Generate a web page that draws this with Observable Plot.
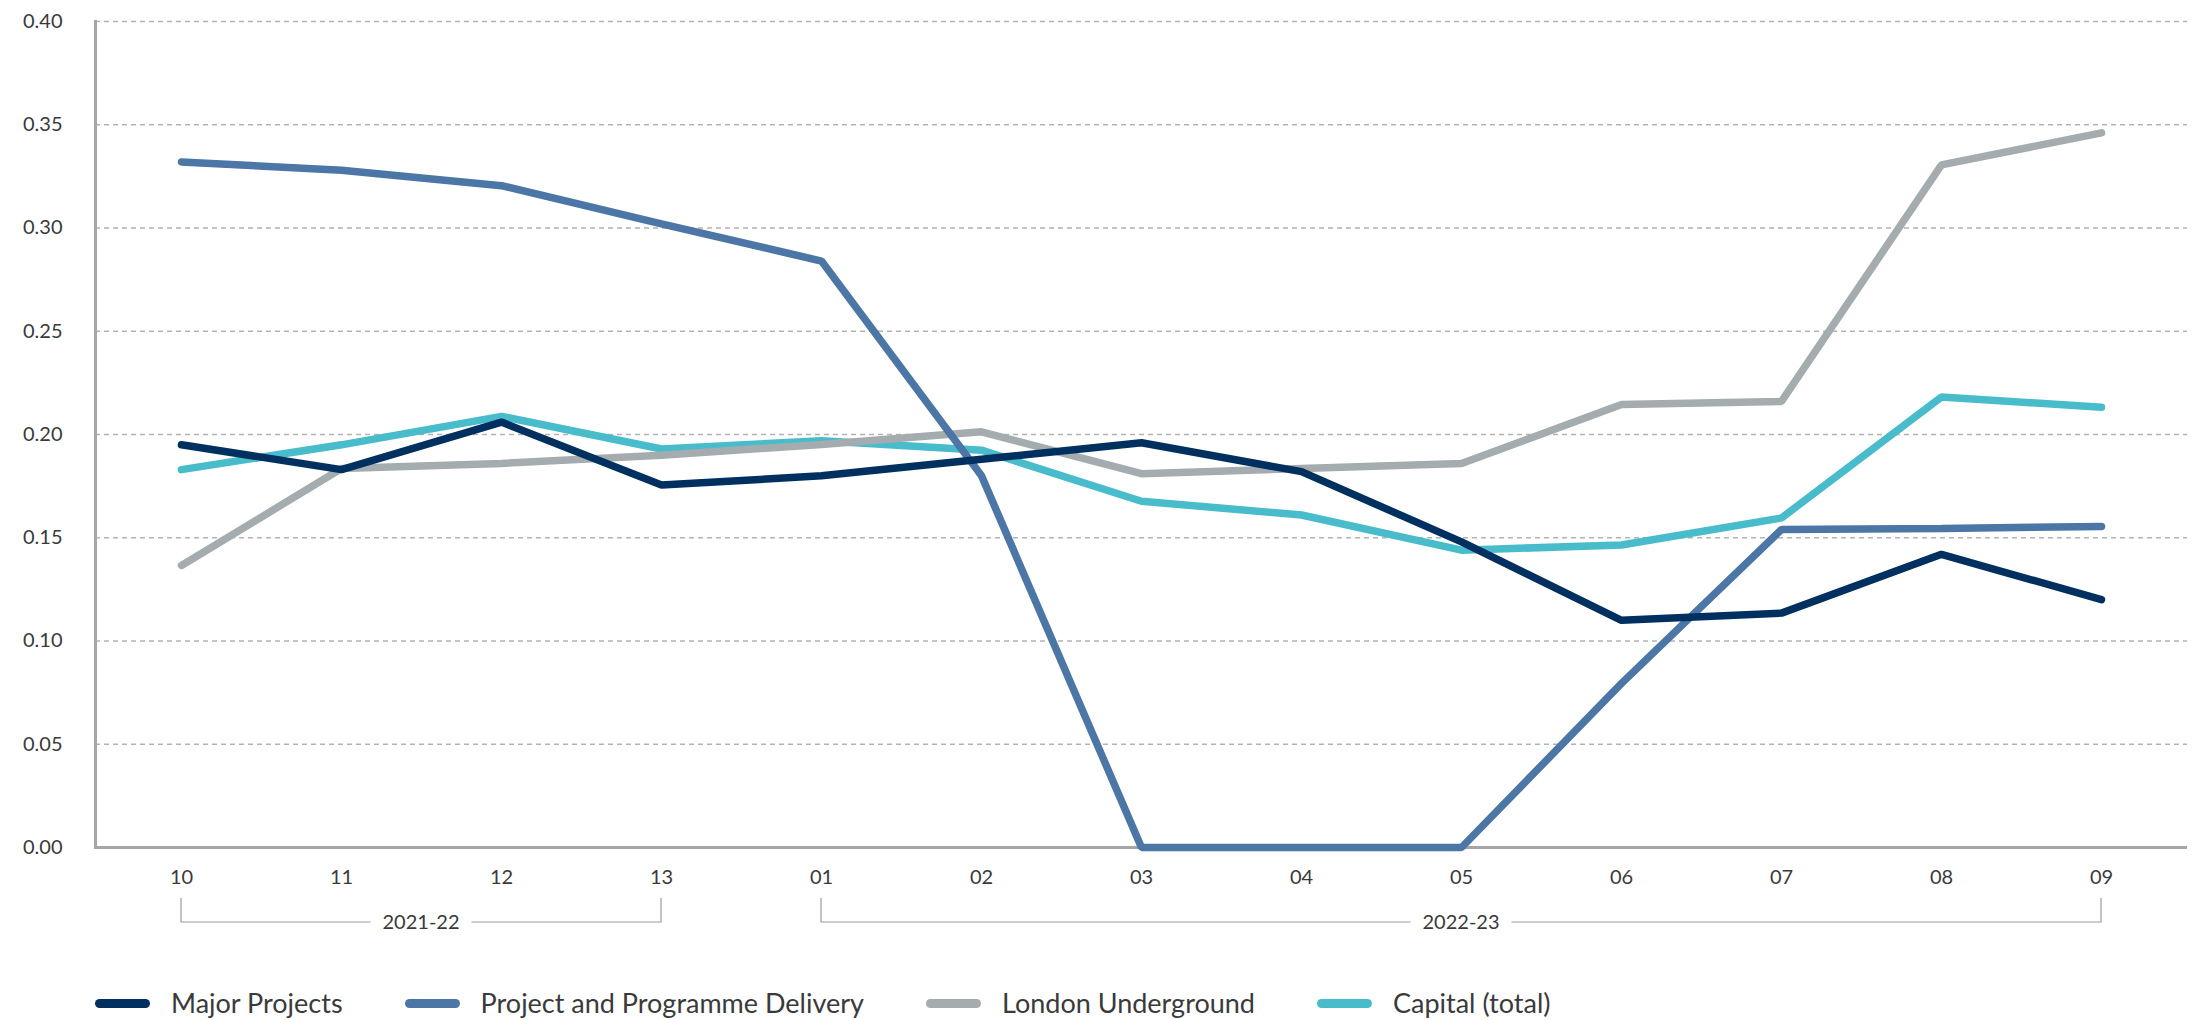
<!DOCTYPE html>
<html>
<head>
<meta charset="utf-8">
<script src="https://cdn.jsdelivr.net/npm/d3@7"></script>
<script src="https://cdn.jsdelivr.net/npm/@observablehq/plot@0.6"></script>
<style>
  body { margin: 0; background: #fff; font-family: Lato, "Noto Sans", sans-serif; color: #3a3a3a; }
  #legend { display: flex; align-items: center; padding-left: 95px; padding-top: 28px; height: 30px; }
  .item { display: flex; align-items: center; margin-right: 62px; }
  .sw { width: 55px; height: 9px; border-radius: 5px; margin-right: 21px; }
  .lab { font-size: 27px; line-height: 30px; color: #3a3a3a; }
</style>
</head>
<body>
<div id="chart"></div>
<div id="legend"></div>
<script>
// ---- data ----
const periods = ["10", "11", "12", "13", "01", "02", "03", "04", "05", "06", "07", "08", "09"];
const yearGroups = ["2021-22", "2022-23"];
const yearStart = ["10", "01"];
const yearEnd = ["13", "09"];
const seriesNames = ["Major Projects", "Project and Programme Delivery", "London Underground", "Capital (total)"];
const majorProjects = [0.195, 0.183, 0.206, 0.1755, 0.180, 0.188, 0.196, 0.182, 0.148, 0.110, 0.1135, 0.142, 0.120];
const programmeDelivery = [0.332, 0.328, 0.3205, 0.302, 0.284, 0.180, 0, 0, 0, 0.0795, 0.154, 0.1545, 0.1555];
const londonUnderground = [0.1366, 0.1835, 0.186, 0.190, 0.1952, 0.2013, 0.181, 0.1835, 0.186, 0.2145, 0.216, 0.3306, 0.3461];
const capitalTotal = [0.183, 0.195, 0.2088, 0.193, 0.197, 0.1924, 0.1677, 0.161, 0.144, 0.1465, 0.1596, 0.2182, 0.2132];
const yTicks = [0, 0.05, 0.10, 0.15, 0.20, 0.25, 0.30, 0.35, 0.40];
const colors = ["#00305f", "#4b76a5", "#a4acb0", "#48bccb"];

// ---- build table ----
const seriesValues = [majorProjects, programmeDelivery, londonUnderground, capitalTotal];
const rows = [];
// draw order bottom->top: Capital, LU, PPD, Major
[3, 2, 1, 0].forEach(si => {
  periods.forEach((p, i) => rows.push({series: seriesNames[si], period: p, value: seriesValues[si][i]}));
});

const plot = Plot.plot({
  width: 2198,
  height: 960,
  marginLeft: 95,
  marginRight: 11,
  marginTop: 21,
  marginBottom: 113,
  style: {fontFamily: "Lato, 'Noto Sans', sans-serif", color: "#3a3a3a", background: "#fff"},
  x: {type: "point", domain: periods, padding: 0.5, label: null},
  y: {domain: [0, 0.4], label: null},
  color: {domain: seriesNames, range: colors},
  marks: [
    Plot.gridY(yTicks.filter(d => d > 0), {stroke: "#b3b3b3", strokeOpacity: 1, strokeWidth: 1.4, strokeDasharray: "5,4"}),
    Plot.axisY(yTicks, {tickSize: 0, tickPadding: 33, tickFormat: d3.format(".2f"), fontSize: 20, label: null}),
    Plot.axisX({tickSize: 0, tickPadding: 22, fontSize: 20, label: null}),
    Plot.frame({anchor: "left", stroke: "#a6a6a6", strokeWidth: 3}),
    Plot.ruleY([0], {stroke: "#a6a6a6", strokeWidth: 3}),
    Plot.line(rows, {x: "period", y: "value", z: "series", stroke: "series", strokeWidth: 7.5,
      strokeLinecap: "round", strokeLinejoin: "miter"})
  ]
});
document.getElementById("chart").appendChild(plot);

// ---- year brackets under the x axis ----
const xs = plot.scale("x");
const svg = d3.select(plot);
const g = svg.append("g").attr("font-size", 20).attr("fill", "#3a3a3a");
yearGroups.forEach((lab, i) => {
  const x1 = xs.apply(yearStart[i]);
  const x2 = xs.apply(yearEnd[i]);
  const yTop = 898, yLine = 922;
  g.append("path")
    .attr("d", `M${x1},${yTop}V${yLine}H${x2}V${yTop}`)
    .attr("fill", "none").attr("stroke", "#9c9c9c").attr("stroke-width", 1.2);
  const t = g.append("text")
    .attr("x", (x1 + x2) / 2).attr("y", yLine).attr("dy", "0.36em")
    .attr("text-anchor", "middle").text(lab);
  const bb = t.node().getBBox();
  g.insert("rect", () => t.node())
    .attr("x", bb.x - 12).attr("y", yLine - 3).attr("width", bb.width + 24).attr("height", 6)
    .attr("fill", "#fff");
});

// ---- legend ----
const legend = d3.select("#legend");
seriesNames.forEach((name, i) => {
  const it = legend.append("div").attr("class", "item");
  it.append("div").attr("class", "sw").style("background", colors[i]);
  it.append("div").attr("class", "lab").text(name);
});
</script>
</body>
</html>
